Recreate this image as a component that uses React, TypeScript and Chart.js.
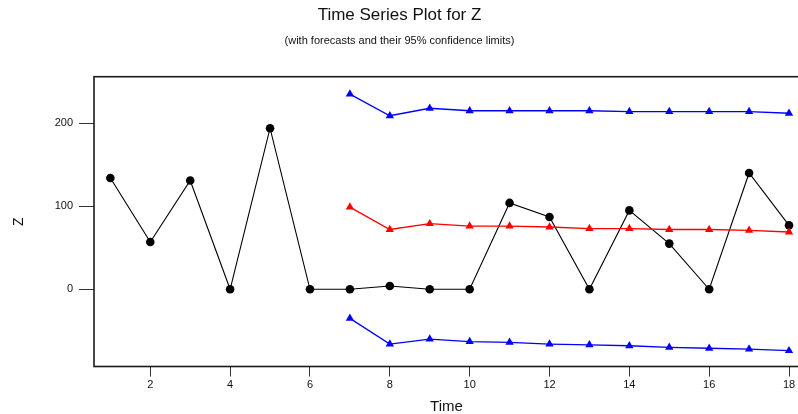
import React, { useEffect, useRef } from "react";
import { Chart, registerables } from "chart.js";

Chart.register(...registerables);

const times = [1, 2, 3, 4, 5, 6, 7, 8, 9, 10, 11, 12, 13, 14, 15, 16, 17, 18];
const zValues = [134, 57, 131, 0, 194, 0, 0, 4, 0, 0, 104, 87, 0, 95, 55, 0, 140, 77];
const forecastTimes = [7, 8, 9, 10, 11, 12, 13, 14, 15, 16, 17, 18];
const forecast = [99, 72, 79, 76, 76, 75, 73, 73, 72, 72, 71, 69];
const upper = [235, 209, 218, 215, 215, 215, 215, 214, 214, 214, 214, 212];
const lower = [-35, -66, -60, -63, -64, -66, -67, -68, -70, -71, -72, -74];
const xTicks = [2, 4, 6, 8, 10, 12, 14, 16, 18];
const yTicks = [0, 100, 200];

const FONT = "'Liberation Sans', Arial, sans-serif";

const boxPlugin = {
  id: "boxBorder",
  beforeDatasetsDraw(chart: any) {
    const { ctx, chartArea } = chart;
    ctx.save();
    ctx.strokeStyle = "#1a1a1a";
    ctx.lineWidth = 1.6;
    ctx.strokeRect(chartArea.left, chartArea.top, chartArea.right - chartArea.left, chartArea.bottom - chartArea.top);
    ctx.restore();
  },
};

export default function App() {
  const ref = useRef<HTMLCanvasElement | null>(null);

  useEffect(() => {
    if (!ref.current) return;
    const pts = (xs: number[], ys: number[]) => xs.map((x, i) => ({ x, y: ys[i] }));
    const tri = (label: string, ys: number[], color: string) => ({
      label,
      data: pts(forecastTimes, ys),
      borderColor: color,
      backgroundColor: color,
      borderWidth: 1.3,
      pointStyle: "triangle",
      pointRadius: 4.8,
      pointBorderWidth: 0,
    });
    const chart = new Chart(ref.current, {
      type: "line",
      data: {
        datasets: [
          tri("Upper", upper, "#0000ff"),
          tri("Forecast", forecast, "#ff0000"),
          tri("Lower", lower, "#0000ff"),
          {
            label: "Z",
            data: pts(times, zValues),
            borderColor: "#000",
            backgroundColor: "#000",
            borderWidth: 1.1,
            pointStyle: "circle",
            pointRadius: 4.3,
            pointBorderWidth: 0,
          },
        ],
      },
      options: {
        animation: false,
        responsive: false,
        devicePixelRatio: 1,
        layout: { padding: { left: 0, right: 41, top: 0, bottom: 0 } },
        plugins: {
          legend: { display: false },
          tooltip: { enabled: false },
          title: {
            display: true,
            text: "Time Series Plot for Z",
            color: "#111",
            font: { family: FONT, size: 17, weight: "normal", lineHeight: 1.2 },
            padding: { top: 4.8, bottom: 9.2 },
          },
          subtitle: {
            display: true,
            text: "(with forecasts and their 95% confidence limits)",
            color: "#111",
            font: { family: FONT, size: 11, weight: "normal", lineHeight: 1.2 },
            padding: { top: 0, bottom: 29.1 },
          },
        },
        scales: {
          x: {
            type: "linear",
            min: 0.59,
            max: 18.25,
            afterFit: (s: any) => {
              s.height = 47.5;
            },
            afterBuildTicks: (s: any) => {
              s.ticks = xTicks.map((v) => ({ value: v }));
            },
            grid: { display: true, drawOnChartArea: false, drawTicks: true, tickLength: 10, color: "#333", lineWidth: 1 },
            border: { display: false },
            ticks: { color: "#111", font: { family: FONT, size: 11 }, padding: 2, maxRotation: 0, autoSkip: false },
            title: {
              display: true,
              text: "Time",
              color: "#111",
              font: { family: FONT, size: 15, lineHeight: 1 },
              padding: { top: 0, bottom: 0 },
            },
          },
          y: {
            type: "linear",
            min: -93,
            max: 256,
            afterFit: (s: any) => {
              s.width = 94;
            },
            afterBuildTicks: (s: any) => {
              s.ticks = yTicks.map((v) => ({ value: v }));
            },
            grid: { display: true, drawOnChartArea: false, drawTicks: true, tickLength: 15, color: "#333", lineWidth: 1 },
            border: { display: false },
            ticks: { color: "#111", font: { family: FONT, size: 11 }, padding: 6, autoSkip: false },
            title: {
              display: true,
              text: "Z",
              color: "#111",
              font: { family: FONT, size: 14, lineHeight: 1.2 },
              padding: { top: 10.5, bottom: 0 },
            },
          },
        },
      },
      plugins: [boxPlugin],
    });
    return () => chart.destroy();
  }, []);

  return (
    <div style={{ position: "fixed", left: 0, top: 0, width: 840, height: 414, background: "#fff" }}>
      <canvas ref={ref} width={840} height={414} style={{ width: 840, height: 414, display: "block" }} />
    </div>
  );
}
